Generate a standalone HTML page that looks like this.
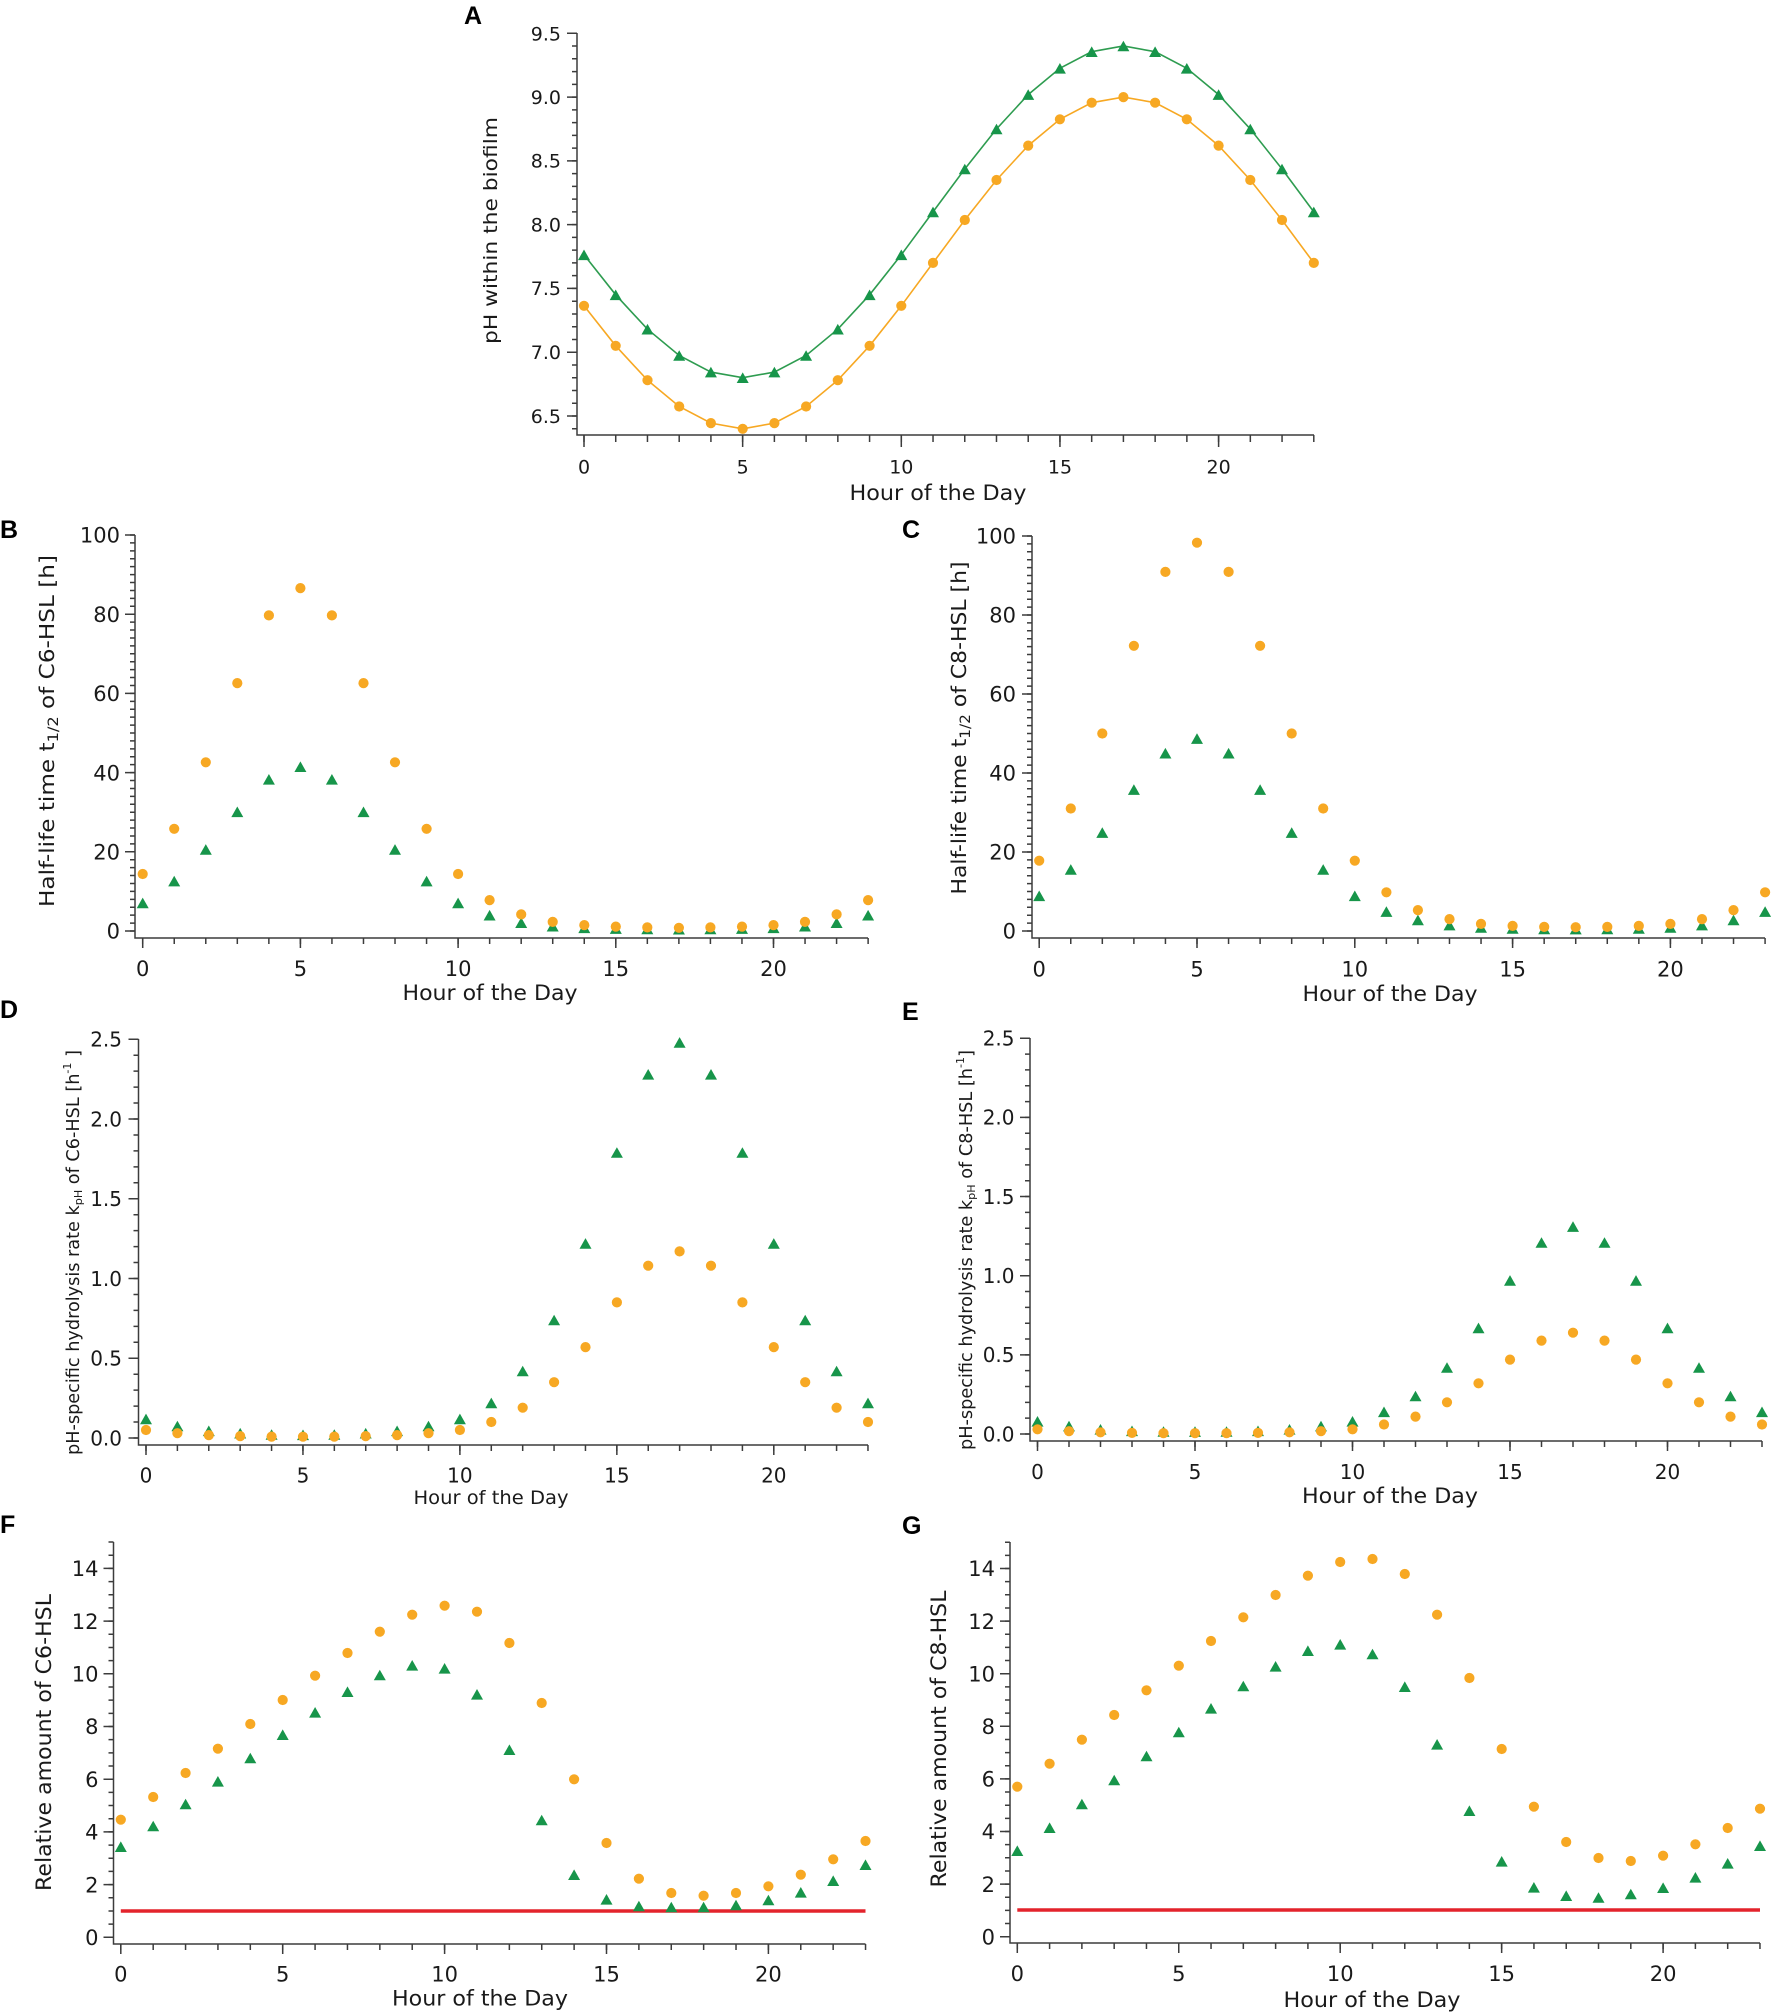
<!DOCTYPE html>
<html><head><meta charset="utf-8"><style>
html,body{margin:0;padding:0;background:#fff;}
svg{display:block;}
text{font-family:"DejaVu Sans","Liberation Sans",sans-serif;fill:#1a1a1a;}
.lt{font-family:"Liberation Sans",Arial,sans-serif;font-weight:bold;font-size:25px;fill:#000;}
.ax{fill:none;stroke:#3c3c3c;stroke-width:1.5;}
.tk{fill:none;stroke:#3c3c3c;}
.o{fill:none;stroke:none;marker-start:url(#mo);marker-mid:url(#mo);marker-end:url(#mo);}
.g{fill:none;stroke:none;marker-start:url(#mg);marker-mid:url(#mg);marker-end:url(#mg);}
</style></head><body>
<svg width="1772" height="2014" viewBox="0 0 1772 2014" xmlns="http://www.w3.org/2000/svg">
<defs>
<marker id="mo" markerUnits="userSpaceOnUse" markerWidth="12" markerHeight="12" refX="6" refY="6" viewBox="0 0 12 12" orient="0" overflow="visible"><circle cx="6" cy="6" r="5.1" fill="#f7a823"/></marker>
<marker id="mg" markerUnits="userSpaceOnUse" markerWidth="12" markerHeight="12" refX="6" refY="5.3" viewBox="0 0 12 12" orient="0" overflow="visible"><path d="M6,0L12,10.6L0,10.6Z" fill="#17954a"/></marker>
</defs>
<rect width="1772" height="2014" fill="#fff"/>

<!-- ===== Panel A ===== -->
<text class="lt" x="464" y="24">A</text>
<path class="ax" d="M577,33V435H1314"/>
<line class="tk" x1="574.5" y1="429.51" x2="574.5" y2="32.5" stroke-width="5" stroke-dasharray="1.5 11.257"/>
<line class="tk" x1="572" y1="416.75" x2="572" y2="32.5" stroke-width="10" stroke-dasharray="1.5 62.285"/>
<line class="tk" x1="583.25" y1="438.5" x2="1315" y2="438.5" stroke-width="7" stroke-dasharray="1.5 30.23"/>
<line class="tk" x1="583.25" y1="441" x2="1230" y2="441" stroke-width="12" stroke-dasharray="1.5 157.15"/>
<g font-size="19" text-anchor="end">
<text x="561" y="40.3">9.5</text><text x="561" y="104">9.0</text><text x="561" y="167.7">8.5</text><text x="561" y="231.5">8.0</text><text x="561" y="295.2">7.5</text><text x="561" y="359">7.0</text><text x="561" y="423">6.5</text>
</g>
<g font-size="19" text-anchor="middle">
<text x="584" y="473.5">0</text><text x="742.7" y="473.5">5</text><text x="901.3" y="473.5">10</text><text x="1060" y="473.5">15</text><text x="1218.6" y="473.5">20</text>
</g>
<text x="938" y="500" font-size="21" text-anchor="middle" textLength="177" lengthAdjust="spacingAndGlyphs">Hour of the Day</text>
<text transform="translate(497,230.5) rotate(-90)" font-size="19" text-anchor="middle" textLength="227" lengthAdjust="spacingAndGlyphs">pH within the biofilm</text>
<g transform="translate(584,416)">
<polyline points="0,-161.2 31.7,-121.2 63.5,-86.8 95.2,-60.5 126.9,-43.9 158.7,-38.3 190.4,-43.9 222.1,-60.5 253.8,-86.8 285.6,-121.2 317.3,-161.2 349,-204.1 380.8,-247 412.5,-287 444.2,-321.4 475.9,-347.7 507.7,-364.3 539.4,-370 571.1,-364.3 602.8,-347.7 634.6,-321.4 666.3,-287 698,-247 729.8,-204.1" fill="none" stroke="#2e9c50" stroke-width="1.6" style="marker-start:url(#mg);marker-mid:url(#mg);marker-end:url(#mg)"/>
<polyline points="0,-110.2 31.7,-70.2 63.5,-35.8 95.2,-9.5 126.9,7.1 158.7,12.8 190.4,7.1 222.1,-9.5 253.8,-35.8 285.6,-70.2 317.3,-110.2 349,-153.1 380.8,-196 412.5,-236 444.2,-270.4 475.9,-296.7 507.7,-313.3 539.4,-318.9 571.1,-313.3 602.8,-296.7 634.6,-270.4 666.3,-236 698,-196 729.8,-153.1" fill="none" stroke="#f7a823" stroke-width="1.6" style="marker-start:url(#mo);marker-mid:url(#mo);marker-end:url(#mo)"/>
</g>

<!-- ===== Panel B ===== -->
<text class="lt" x="0" y="538">B</text>
<path class="ax" d="M135,535V938H868"/>
<line class="tk" x1="132.5" y1="931.75" x2="132.5" y2="534" stroke-width="5" stroke-dasharray="1.5 6.42"/>
<line class="tk" x1="130" y1="931.75" x2="130" y2="534" stroke-width="10" stroke-dasharray="1.5 77.7"/>
<line class="tk" x1="141.95" y1="941" x2="869.5" y2="941" stroke-width="6" stroke-dasharray="1.5 30.04"/>
<line class="tk" x1="141.95" y1="943" x2="800" y2="943" stroke-width="10" stroke-dasharray="1.5 156.2"/>
<g font-size="21" text-anchor="end">
<text x="120" y="938.7">0</text><text x="120" y="859.5">20</text><text x="120" y="780.3">40</text><text x="120" y="701.1">60</text><text x="120" y="621.9">80</text><text x="120" y="542.7">100</text>
</g>
<g font-size="21" text-anchor="middle">
<text x="142.7" y="976">0</text><text x="300.4" y="976">5</text><text x="458.1" y="976">10</text><text x="615.8" y="976">15</text><text x="773.5" y="976">20</text>
</g>
<text x="490" y="1000" font-size="21" text-anchor="middle" textLength="175" lengthAdjust="spacingAndGlyphs">Hour of the Day</text>
<text transform="translate(54,731) rotate(-90)" font-size="20" text-anchor="middle" textLength="352" lengthAdjust="spacingAndGlyphs">Half-life time t<tspan font-size="14" dy="4">1/2</tspan><tspan dy="-4"> of C6-HSL [h]</tspan></text>
<g transform="translate(142.7,931)">
<polyline class="g" points="0,-28.1 31.5,-49.9 63.1,-81.6 94.6,-119.2 126.2,-151.7 157.7,-164.3 189.2,-151.7 220.8,-119.2 252.3,-81.6 283.9,-49.9 315.4,-28.1 346.9,-15.8 378.5,-8.3 410,-4.8 441.6,-3.2 473.1,-2.4 504.6,-2 536.2,-1.8 567.7,-2 599.3,-2.4 630.8,-3.2 662.3,-4.8 693.9,-8.3 725.4,-15.8"/>
<polyline class="o" points="0,-57 31.5,-102.2 63.1,-168.7 94.6,-247.9 126.2,-315.6 157.7,-342.9 189.2,-315.6 220.8,-247.9 252.3,-168.7 283.9,-102.2 315.4,-57 346.9,-30.9 378.5,-16.6 410,-9.1 441.6,-5.9 473.1,-4.4 504.6,-3.6 536.2,-3.2 567.7,-3.6 599.3,-4.4 630.8,-5.9 662.3,-9.1 693.9,-16.6 725.4,-30.9"/>
</g>

<!-- ===== Panel C ===== -->
<text class="lt" x="902" y="538">C</text>
<path class="ax" d="M1032,536V938H1765"/>
<line class="tk" x1="1029.5" y1="931.75" x2="1029.5" y2="535" stroke-width="5" stroke-dasharray="1.5 6.4"/>
<line class="tk" x1="1027" y1="931.75" x2="1027" y2="535" stroke-width="10" stroke-dasharray="1.5 77.5"/>
<line class="tk" x1="1038.45" y1="941" x2="1766" y2="941" stroke-width="6" stroke-dasharray="1.5 30.06"/>
<line class="tk" x1="1038.45" y1="943" x2="1700" y2="943" stroke-width="10" stroke-dasharray="1.5 156.3"/>
<g font-size="21" text-anchor="end">
<text x="1016" y="938.7">0</text><text x="1016" y="859.7">20</text><text x="1016" y="780.7">40</text><text x="1016" y="701.7">60</text><text x="1016" y="622.7">80</text><text x="1016" y="543.7">100</text>
</g>
<g font-size="21" text-anchor="middle">
<text x="1039.2" y="976.5">0</text><text x="1197" y="976.5">5</text><text x="1354.8" y="976.5">10</text><text x="1512.6" y="976.5">15</text><text x="1670.4" y="976.5">20</text>
</g>
<text x="1390" y="1001" font-size="21" text-anchor="middle" textLength="175" lengthAdjust="spacingAndGlyphs">Hour of the Day</text>
<text transform="translate(966,728) rotate(-90)" font-size="20" text-anchor="middle" textLength="333" lengthAdjust="spacingAndGlyphs">Half-life time t<tspan font-size="14" dy="4">1/2</tspan><tspan dy="-4"> of C8-HSL [h]</tspan></text>
<g transform="translate(1039.2,931)">
<polyline class="g" points="0,-35.2 31.6,-61.6 63.1,-98.4 94.7,-141.4 126.2,-177.8 157.8,-192.4 189.4,-177.8 220.9,-141.4 252.5,-98.4 284,-61.6 315.6,-35.2 347.2,-19.4 378.7,-11.1 410.3,-5.9 441.8,-3.6 473.4,-2.6 505,-2 536.5,-1.9 568.1,-2 599.6,-2.6 631.2,-3.6 662.8,-5.9 694.3,-11.1 725.9,-19.4"/>
<polyline class="o" points="0,-70.3 31.6,-122.5 63.1,-197.5 94.7,-285.2 126.2,-359.1 157.8,-388.3 189.4,-359.1 220.9,-285.2 252.5,-197.5 284,-122.5 315.6,-70.3 347.2,-38.7 378.7,-20.9 410.3,-11.9 441.8,-7.1 473.4,-5.1 505,-4.1 536.5,-3.8 568.1,-4.1 599.6,-5.1 631.2,-7.1 662.8,-11.9 694.3,-20.9 725.9,-38.7"/>
</g>

<!-- ===== Panel D ===== -->
<text class="lt" x="0" y="1018">D</text>
<path class="ax" d="M138.5,1039V1445H868"/>
<line class="tk" x1="136" y1="1438.75" x2="136" y2="1038.5" stroke-width="5" stroke-dasharray="1.5 14.45"/>
<line class="tk" x1="133.5" y1="1438.75" x2="133.5" y2="1038.5" stroke-width="10" stroke-dasharray="1.5 78.25"/>
<line class="tk" x1="145.25" y1="1448" x2="869" y2="1448" stroke-width="6" stroke-dasharray="1.5 29.89"/>
<line class="tk" x1="145.25" y1="1450" x2="800" y2="1450" stroke-width="10" stroke-dasharray="1.5 155.45"/>
<g font-size="20" text-anchor="end">
<text x="122" y="1445.3">0.0</text><text x="122" y="1365.5">0.5</text><text x="122" y="1285.8">1.0</text><text x="122" y="1206">1.5</text><text x="122" y="1126.3">2.0</text><text x="122" y="1046.5">2.5</text>
</g>
<g font-size="20" text-anchor="middle">
<text x="146" y="1482.5">0</text><text x="302.95" y="1482.5">5</text><text x="459.9" y="1482.5">10</text><text x="616.85" y="1482.5">15</text><text x="773.8" y="1482.5">20</text>
</g>
<text x="491" y="1504" font-size="19" text-anchor="middle" textLength="155" lengthAdjust="spacingAndGlyphs">Hour of the Day</text>
<text transform="translate(79,1252.5) rotate(-90)" font-size="17.5" text-anchor="middle" textLength="405" lengthAdjust="spacingAndGlyphs">pH-specific hydrolysis rate k<tspan font-size="11" dy="3">pH</tspan><tspan dy="-3"> of C6-HSL [h</tspan><tspan font-size="11" dy="-8">-1</tspan><tspan dy="8"> ]</tspan></text>
<g transform="translate(146,1438)">
<polyline class="g" points="0,-19.1 31.4,-12 62.8,-7.2 94.2,-4.8 125.6,-3.5 157,-3.2 188.3,-3.5 219.7,-4.8 251.1,-7.2 282.5,-12 313.9,-19.1 345.3,-35.1 376.7,-67 408.1,-118 439.5,-194.6 470.9,-285.5 502.2,-363.7 533.6,-395.6 565,-363.7 596.4,-285.5 627.8,-194.6 659.2,-118 690.6,-67 722,-35.1"/>
<polyline class="o" points="0,-8 31.4,-4.8 62.8,-2.9 94.2,-1.9 125.6,-1.4 157,-1.3 188.3,-1.4 219.7,-1.9 251.1,-2.9 282.5,-4.8 313.9,-8 345.3,-16 376.7,-30.3 408.1,-55.8 439.5,-90.9 470.9,-135.6 502.2,-172.3 533.6,-186.6 565,-172.3 596.4,-135.6 627.8,-90.9 659.2,-55.8 690.6,-30.3 722,-16"/>
</g>

<!-- ===== Panel E ===== -->
<text class="lt" x="902" y="1020">E</text>
<path class="ax" d="M1030,1038V1441H1762"/>
<line class="tk" x1="1027.5" y1="1434.75" x2="1027.5" y2="1037.5" stroke-width="5" stroke-dasharray="1.5 14.33"/>
<line class="tk" x1="1025" y1="1434.75" x2="1025" y2="1037.5" stroke-width="10" stroke-dasharray="1.5 77.65"/>
<line class="tk" x1="1036.75" y1="1444" x2="1763" y2="1444" stroke-width="6" stroke-dasharray="1.5 30"/>
<line class="tk" x1="1036.75" y1="1446" x2="1700" y2="1446" stroke-width="10" stroke-dasharray="1.5 156"/>
<g font-size="20" text-anchor="end">
<text x="1014.5" y="1441.3">0.0</text><text x="1014.5" y="1362.2">0.5</text><text x="1014.5" y="1283">1.0</text><text x="1014.5" y="1203.9">1.5</text><text x="1014.5" y="1124.7">2.0</text><text x="1014.5" y="1045.6">2.5</text>
</g>
<g font-size="20" text-anchor="middle">
<text x="1037.5" y="1479">0</text><text x="1195" y="1479">5</text><text x="1352.5" y="1479">10</text><text x="1510" y="1479">15</text><text x="1667.5" y="1479">20</text>
</g>
<text x="1390" y="1503" font-size="21" text-anchor="middle" textLength="176" lengthAdjust="spacingAndGlyphs">Hour of the Day</text>
<text transform="translate(972,1250) rotate(-90)" font-size="17.5" text-anchor="middle" textLength="400" lengthAdjust="spacingAndGlyphs">pH-specific hydrolysis rate k<tspan font-size="11" dy="3">pH</tspan><tspan dy="-3"> of C8-HSL [h</tspan><tspan font-size="11" dy="-8">-1</tspan><tspan dy="8">]</tspan></text>
<g transform="translate(1037.5,1434)">
<polyline class="g" points="0,-12.7 31.5,-7.9 63,-4.7 94.5,-3.2 126,-2.5 157.5,-2.4 189,-2.5 220.5,-3.2 252,-4.7 283.5,-7.9 315,-12.7 346.5,-22.2 378,-38 409.5,-66.5 441,-106.1 472.5,-153.6 504,-191.5 535.5,-207.4 567,-191.5 598.5,-153.6 630,-106.1 661.5,-66.5 693,-38 724.5,-22.2"/>
<polyline class="o" points="0,-4.7 31.5,-2.8 63,-1.7 94.5,-1.1 126,-0.8 157.5,-0.8 189,-0.8 220.5,-1.1 252,-1.7 283.5,-2.8 315,-4.7 346.5,-9.5 378,-17.4 409.5,-31.7 441,-50.7 472.5,-74.4 504,-93.4 535.5,-101.3 567,-93.4 598.5,-74.4 630,-50.7 661.5,-31.7 693,-17.4 724.5,-9.5"/>
</g>

<!-- ===== Panel F ===== -->
<text class="lt" x="0" y="1533">F</text>
<path class="ax" d="M113.5,1542V1944H865.5"/>
<line class="tk" x1="111" y1="1938.05" x2="111" y2="1541" stroke-width="5" stroke-dasharray="1.5 11.675"/>
<line class="tk" x1="108.5" y1="1938.05" x2="108.5" y2="1560" stroke-width="10" stroke-dasharray="1.5 51.2"/>
<line class="tk" x1="120.05" y1="1947" x2="866.5" y2="1947" stroke-width="6" stroke-dasharray="1.5 30.88"/>
<line class="tk" x1="120.05" y1="1949" x2="800" y2="1949" stroke-width="10" stroke-dasharray="1.5 160.4"/>
<g font-size="21" text-anchor="end">
<text x="98.5" y="1945">0</text><text x="98.5" y="1892.3">2</text><text x="98.5" y="1839.6">4</text><text x="98.5" y="1786.9">6</text><text x="98.5" y="1734.2">8</text><text x="98.5" y="1681.5">10</text><text x="98.5" y="1628.8">12</text><text x="98.5" y="1576.1">14</text>
</g>
<g font-size="21" text-anchor="middle">
<text x="120.8" y="1981.5">0</text><text x="282.7" y="1981.5">5</text><text x="444.6" y="1981.5">10</text><text x="606.5" y="1981.5">15</text><text x="768.4" y="1981.5">20</text>
</g>
<text x="480" y="2005.5" font-size="21" text-anchor="middle" textLength="176" lengthAdjust="spacingAndGlyphs">Hour of the Day</text>
<text transform="translate(51,1742.5) rotate(-90)" font-size="21" text-anchor="middle" textLength="297" lengthAdjust="spacingAndGlyphs">Relative amount of C6-HSL</text>
<path d="M120.8,1911H865.5" stroke="#e3232c" stroke-width="3.5" fill="none"/>
<g transform="translate(120.8,0)">
<polyline class="g" points="0,1846.7 32.4,1826 64.8,1804 97.1,1781.3 129.5,1758 161.9,1734.7 194.3,1712.3 226.7,1691.7 259,1675 291.4,1665.3 323.8,1668.3 356.2,1694.3 388.6,1749.7 420.9,1820 453.3,1874.7 485.7,1899.3 518.1,1906 550.5,1907 582.8,1907 615.2,1905 647.6,1900 680,1892.3 712.4,1880.7 744.7,1864.7"/>
<polyline class="o" points="0,1819.7 32.4,1797 64.8,1773 97.1,1748.7 129.5,1724 161.9,1700 194.3,1675.7 226.7,1653 259,1631.7 291.4,1614.7 323.8,1605.7 356.2,1611.7 388.6,1643 420.9,1703 453.3,1779.3 485.7,1843 518.1,1878.7 550.5,1893 582.8,1895.7 615.2,1893 647.6,1886.3 680,1874.7 712.4,1859.3 744.7,1841"/>
</g>

<!-- ===== Panel G ===== -->
<text class="lt" x="902" y="1534">G</text>
<path class="ax" d="M1010,1542V1943H1760"/>
<line class="tk" x1="1007.5" y1="1937.45" x2="1007.5" y2="1541" stroke-width="5" stroke-dasharray="1.5 11.65"/>
<line class="tk" x1="1005" y1="1937.45" x2="1005" y2="1560" stroke-width="10" stroke-dasharray="1.5 51.1"/>
<line class="tk" x1="1016.55" y1="1946" x2="1761" y2="1946" stroke-width="6" stroke-dasharray="1.5 30.79"/>
<line class="tk" x1="1016.55" y1="1948" x2="1700" y2="1948" stroke-width="10" stroke-dasharray="1.5 159.95"/>
<g font-size="21" text-anchor="end">
<text x="995" y="1944.4">0</text><text x="995" y="1891.8">2</text><text x="995" y="1839.2">4</text><text x="995" y="1786.6">6</text><text x="995" y="1734">8</text><text x="995" y="1681.4">10</text><text x="995" y="1628.8">12</text><text x="995" y="1576.2">14</text>
</g>
<g font-size="21" text-anchor="middle">
<text x="1017.3" y="1981">0</text><text x="1178.75" y="1981">5</text><text x="1340.2" y="1981">10</text><text x="1501.65" y="1981">15</text><text x="1663.1" y="1981">20</text>
</g>
<text x="1372" y="2007" font-size="21" text-anchor="middle" textLength="177" lengthAdjust="spacingAndGlyphs">Hour of the Day</text>
<text transform="translate(946,1739) rotate(-90)" font-size="21" text-anchor="middle" textLength="297" lengthAdjust="spacingAndGlyphs">Relative amount of C8-HSL</text>
<path d="M1017.3,1910H1760" stroke="#e3232c" stroke-width="3.5" fill="none"/>
<g transform="translate(1017.3,0)">
<polyline class="g" points="0,1850.7 32.3,1827.7 64.6,1804 96.9,1780 129.2,1756 161.5,1732 193.7,1708.3 226,1686 258.3,1666.3 290.6,1650.7 322.9,1644.3 355.2,1654 387.5,1686.7 419.8,1744.3 452.1,1810.7 484.4,1861.3 516.6,1887.3 548.9,1895.7 581.2,1897.5 613.5,1894 645.8,1887.7 678.1,1877.3 710.4,1863.3 742.7,1845.7"/>
<polyline class="o" points="0,1786.7 32.3,1763.7 64.6,1739.7 96.9,1715 129.2,1690.3 161.5,1665.7 193.7,1641 226,1617.3 258.3,1595 290.6,1575.7 322.9,1562 355.2,1559 387.5,1574 419.8,1614.7 452.1,1678 484.4,1749 516.6,1806.7 548.9,1842 581.2,1858 613.5,1861 645.8,1855.7 678.1,1844.3 710.4,1828 742.7,1808.7"/>
</g>
</svg>
</body></html>
